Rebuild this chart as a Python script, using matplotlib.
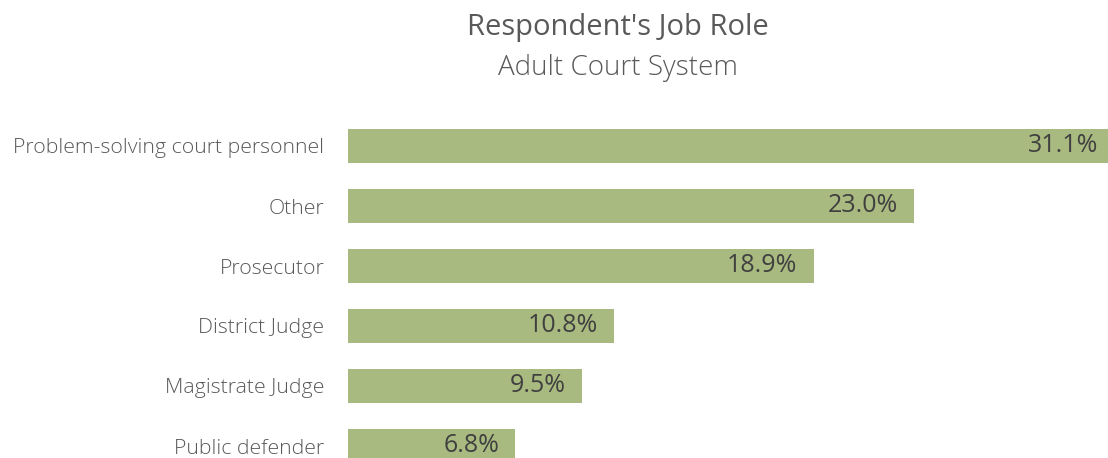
import matplotlib
matplotlib.use("Agg")
import matplotlib.pyplot as plt

roles = ["Problem-solving court personnel", "Other", "Prosecutor",
         "District Judge", "Magistrate Judge", "Public defender"]
shares = [31.1, 23.0, 18.9, 10.8, 9.5, 6.8]
value_labels = ["31.1%", "23.0%", "18.9%", "10.8%", "9.5%", "6.8%"]

plt.rcParams['font.family'] = ['Open Sans', 'DejaVu Sans']

W, H = 1108, 458
fig = plt.figure(figsize=(W / 100, H / 100), dpi=100)

# axes placed in pixel terms: bars start at x=348, row pitch 60 px
ax = fig.add_axes([348 / W, 0, (W - 348) / W, (H - 116) / H])
xmax = (W - 348) / 24.63
ax.set_xlim(0, xmax)
ax.set_ylim(5.2, -0.5)

ypos = list(range(len(roles)))
ax.barh(ypos, shares, height=0.567, color="#A9BA80")

for y, v, lab in zip(ypos, shares, value_labels):
    ax.annotate(lab, xy=(min(v, xmax + 0.25), y), xytext=(-16, 0),
                textcoords="offset pixels",
                ha="right", va="center", fontsize=18, color="#404040",
                annotation_clip=False)

ax.set_yticks(ypos)
ax.set_yticklabels(roles, fontsize=15.3, color="#595959", fontweight="light")
ax.tick_params(axis="y", length=0, pad=17)
ax.set_xticks([])
for s in ax.spines.values():
    s.set_visible(False)

fig.text(618 / W, 1 - 35 / H, "Respondent's Job Role", ha="center", va="baseline",
         fontsize=21, color="#595959")
fig.text(618 / W, 1 - 75 / H, "Adult Court System", ha="center", va="baseline",
         fontsize=20, color="#595959", fontweight="light")

fig.savefig("out.png", dpi=100)
